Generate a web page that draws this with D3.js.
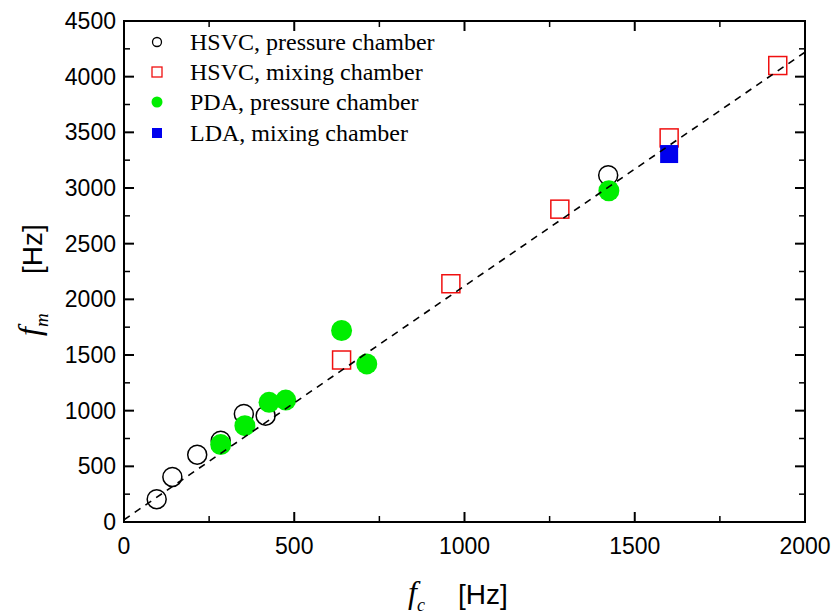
<!DOCTYPE html>
<html>
<head>
<meta charset="utf-8">
<script src="https://cdn.jsdelivr.net/npm/d3@7"></script>
<style>
    body { margin: 0; background: #fff; }
    svg { display: block; }
    .tick-label { font-family: "Liberation Sans", Arial, sans-serif; font-size: 23px; fill: #000; }
    .legend-label { font-family: "Liberation Serif", "Times New Roman", serif; font-size: 24px; fill: #000; }
</style>
</head>
<body>
<div id="chart"></div>
<script>
// HSVC, pressure chamber (open black circles)
const hsvcPressureFc = [96, 142, 215, 284, 352, 416, 1422];
const hsvcPressureFm = [205, 405, 605, 730, 970, 955, 3115];
// HSVC, mixing chamber (open red squares)
const hsvcMixingFc = [639, 960, 1280, 1601, 1920];
const hsvcMixingFm = [1455, 2140, 2810, 3450, 4100];
// PDA, pressure chamber (green dots)
const pdaFc = [284, 355, 426, 475, 639, 713, 1424];
const pdaFm = [695, 865, 1075, 1095, 1720, 1420, 2975];
// LDA, mixing chamber (blue square)
const ldaFc = [1601];
const ldaFm = [3305];
// fitted line end points
const fitFc = [0, 2000];
const fitFm = [20, 4220];

const xTicks = [0, 500, 1000, 1500, 2000];
const yTicks = [0, 500, 1000, 1500, 2000, 2500, 3000, 3500, 4000, 4500];
const legendLabels = ["HSVC, pressure chamber", "HSVC, mixing chamber", "PDA, pressure chamber", "LDA, mixing chamber"];

const width = 835, height = 615;
const margin = {top: 21, right: 30, bottom: 93, left: 124};

const svg = d3.select("#chart").append("svg")
    .attr("width", width)
    .attr("height", height);

const x = d3.scaleLinear().domain([0, 2000]).range([margin.left, width - margin.right]);
const y = d3.scaleLinear().domain([0, 4500]).range([height - margin.bottom, margin.top]);

function zipPoints(xs, ys) {
    return xs.map((v, i) => ({fc: v, fm: ys[i]}));
}

function drawAxes() {
    const minorX = d3.range(250, 2000, 500);
    const minorY = d3.range(250, 4500, 500);
    const x0 = x.range()[0], x1 = x.range()[1];
    const y0 = y.range()[0], y1 = y.range()[1];
    const g = svg.append("g");

    // bottom + top ticks (inward)
    xTicks.forEach(t => {
        g.append("line").attr("x1", x(t)).attr("x2", x(t)).attr("y1", y0).attr("y2", y0 - 10)
            .attr("stroke", "#000").attr("stroke-width", 2);
        g.append("line").attr("x1", x(t)).attr("x2", x(t)).attr("y1", y1).attr("y2", y1 + 10)
            .attr("stroke", "#000").attr("stroke-width", 2);
    });
    minorX.forEach(t => {
        g.append("line").attr("x1", x(t)).attr("x2", x(t)).attr("y1", y0).attr("y2", y0 - 6)
            .attr("stroke", "#000").attr("stroke-width", 1.5);
        g.append("line").attr("x1", x(t)).attr("x2", x(t)).attr("y1", y1).attr("y2", y1 + 6)
            .attr("stroke", "#000").attr("stroke-width", 1.5);
    });
    // left + right ticks
    yTicks.forEach(t => {
        g.append("line").attr("x1", x0).attr("x2", x0 + 10).attr("y1", y(t)).attr("y2", y(t))
            .attr("stroke", "#000").attr("stroke-width", 2);
        g.append("line").attr("x1", x1).attr("x2", x1 - 10).attr("y1", y(t)).attr("y2", y(t))
            .attr("stroke", "#000").attr("stroke-width", 2);
    });
    minorY.forEach(t => {
        g.append("line").attr("x1", x0).attr("x2", x0 + 6).attr("y1", y(t)).attr("y2", y(t))
            .attr("stroke", "#000").attr("stroke-width", 1.5);
        g.append("line").attr("x1", x1).attr("x2", x1 - 6).attr("y1", y(t)).attr("y2", y(t))
            .attr("stroke", "#000").attr("stroke-width", 1.5);
    });

    // frame
    g.append("rect")
        .attr("x", x0).attr("y", y1)
        .attr("width", x1 - x0).attr("height", y0 - y1)
        .attr("fill", "none").attr("stroke", "#000").attr("stroke-width", 2);

    // tick labels
    g.selectAll(".xl").data(xTicks).enter().append("text")
        .attr("class", "tick-label")
        .attr("x", d => x(d)).attr("y", y0 + 32)
        .attr("text-anchor", "middle")
        .text(d => d);
    g.selectAll(".yl").data(yTicks).enter().append("text")
        .attr("class", "tick-label")
        .attr("x", x0 - 8).attr("y", d => y(d) + 8)
        .attr("text-anchor", "end")
        .text(d => d);
}

function drawTitles() {
    // x title: f_c [Hz]
    const xt = svg.append("text").attr("x", 408).attr("y", 603);
    xt.append("tspan").text("f")
        .style("font-family", "'Liberation Serif', 'Times New Roman', serif")
        .style("font-style", "italic").style("font-size", "32px");
    xt.append("tspan").text("c").attr("dy", 8)
        .style("font-family", "'Liberation Serif', 'Times New Roman', serif")
        .style("font-style", "italic").style("font-size", "18px");
    svg.append("text").attr("x", 458).attr("y", 604).text("[Hz]")
        .style("font-family", "'Liberation Sans', Arial, sans-serif").style("font-size", "28px");

    // y title: f_m [Hz]
    const yg = svg.append("g").attr("transform", "translate(40,336) rotate(-90)");
    const yt = yg.append("text").attr("x", 0).attr("y", 0);
    yt.append("tspan").text("f")
        .style("font-family", "'Liberation Serif', 'Times New Roman', serif")
        .style("font-style", "italic").style("font-size", "32px");
    yt.append("tspan").text("m").attr("dy", 8)
        .style("font-family", "'Liberation Serif', 'Times New Roman', serif")
        .style("font-style", "italic").style("font-size", "19px");
    yg.append("text").attr("x", 62).attr("y", 2).text("[Hz]")
        .style("font-family", "'Liberation Sans', Arial, sans-serif").style("font-size", "28px");
}

function drawData() {
    const g = svg.append("g");
    const sq = 18;

    g.selectAll(".hp").data(zipPoints(hsvcPressureFc, hsvcPressureFm)).enter().append("circle")
        .attr("cx", d => x(d.fc)).attr("cy", d => y(d.fm)).attr("r", 9.5)
        .attr("fill", "none").attr("stroke", "#000").attr("stroke-width", 1.5);

    g.selectAll(".hm").data(zipPoints(hsvcMixingFc, hsvcMixingFm)).enter().append("rect")
        .attr("x", d => x(d.fc) - sq / 2).attr("y", d => y(d.fm) - sq / 2)
        .attr("width", sq).attr("height", sq)
        .attr("fill", "none").attr("stroke", "#f01010").attr("stroke-width", 1.5);

    g.selectAll(".pda").data(zipPoints(pdaFc, pdaFm)).enter().append("circle")
        .attr("cx", d => x(d.fc)).attr("cy", d => y(d.fm)).attr("r", 10.5)
        .attr("fill", "#00ee00");

    g.selectAll(".lda").data(zipPoints(ldaFc, ldaFm)).enter().append("rect")
        .attr("x", d => x(d.fc) - sq / 2).attr("y", d => y(d.fm) - sq / 2)
        .attr("width", sq).attr("height", sq)
        .attr("fill", "#0000ee");

    // dashed fit line, clipped to the frame
    svg.append("clipPath").attr("id", "plot-clip").append("rect")
        .attr("x", x.range()[0]).attr("y", y.range()[1])
        .attr("width", x.range()[1] - x.range()[0]).attr("height", y.range()[0] - y.range()[1]);
    const line = d3.line().x(d => x(d.fc)).y(d => y(d.fm));
    svg.append("path")
        .datum(zipPoints(fitFc, fitFm))
        .attr("d", line)
        .attr("clip-path", "url(#plot-clip)")
        .attr("fill", "none").attr("stroke", "#000")
        .attr("stroke-width", 1.6).attr("stroke-dasharray", "7,6");
}

function drawLegend() {
    const g = svg.append("g");
    const rows = [42, 72, 102, 133];
    const sx = 157;
    g.append("circle").attr("cx", sx).attr("cy", rows[0]).attr("r", 4.5)
        .attr("fill", "none").attr("stroke", "#000").attr("stroke-width", 1.3);
    g.append("rect").attr("x", sx - 5).attr("y", rows[1] - 5).attr("width", 10).attr("height", 10)
        .attr("fill", "none").attr("stroke", "#f01010").attr("stroke-width", 1.3);
    g.append("circle").attr("cx", sx).attr("cy", rows[2]).attr("r", 5.5)
        .attr("fill", "#00ee00");
    g.append("rect").attr("x", sx - 5).attr("y", rows[3] - 5).attr("width", 10).attr("height", 10)
        .attr("fill", "#0000ee");
    g.selectAll(".ll").data(legendLabels).enter().append("text")
        .attr("class", "legend-label")
        .attr("x", 190).attr("y", (d, i) => rows[i] + 8)
        .text(d => d);
}

drawData();
drawAxes();
drawLegend();
drawTitles();
</script>
</body>
</html>
